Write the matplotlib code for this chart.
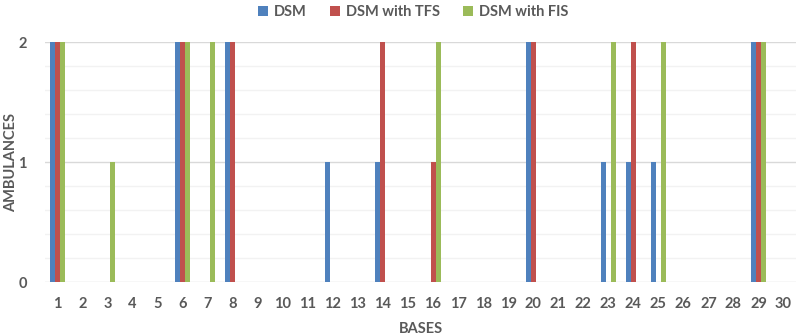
import numpy as np
import matplotlib
matplotlib.use('Agg')
import matplotlib.pyplot as plt
from matplotlib.ticker import MultipleLocator

bases = list(range(1, 31))
dsm = [2, 0, 0, 0, 0, 2, 0, 2, 0, 0, 0, 1, 0, 1, 0, 0, 0, 0, 0, 2,
       0, 0, 1, 1, 1, 0, 0, 0, 2, 0]
dsm_tfs = [2, 0, 0, 0, 0, 2, 0, 2, 0, 0, 0, 0, 0, 2, 0, 1, 0, 0, 0, 2,
           0, 0, 0, 2, 0, 0, 0, 0, 2, 0]
dsm_fis = [2, 0, 1, 0, 0, 2, 2, 0, 0, 0, 0, 0, 0, 0, 0, 2, 0, 0, 0, 0,
           0, 0, 2, 0, 2, 0, 0, 0, 2, 0]
series_names = ['DSM', 'DSM with TFS', 'DSM with FIS']
colors = ['#4F81BD', '#C0504D', '#9BBB59']

plt.rcParams['font.family'] = ['Lato', 'DejaVu Sans']
plt.rcParams['font.weight'] = 'bold'
txt = '#595959'
fs = 10.5

fig = plt.figure(figsize=(7.96, 3.35), dpi=100)
ax = fig.add_axes([0.0565, 0.158, 0.9435, 0.716])

x = np.arange(len(bases))
w = 0.2
for i, (vals, name, c) in enumerate(zip([dsm, dsm_tfs, dsm_fis], series_names, colors)):
    ax.bar(x + (i - 1) * w, vals, width=w, color=c, label=name, zorder=3)

ax.set_xlim(-0.5, len(bases) - 0.5)
ax.set_ylim(0, 2)
ax.set_xticks(x)
ax.set_xticklabels([str(b) for b in bases], fontweight='bold')
ax.set_yticks([0, 1, 2])
ax.set_yticklabels(['0', '1', '2'], fontweight='bold')
ax.yaxis.set_minor_locator(MultipleLocator(0.2))
ax.grid(axis='y', which='major', color='#d9d9d9', linewidth=1, zorder=0)
ax.grid(axis='y', which='minor', color='#f2f2f2', linewidth=1, zorder=0)
for s in ax.spines.values():
    s.set_visible(False)
ax.tick_params(axis='both', which='both', length=0, colors=txt, labelsize=fs)
ax.tick_params(axis='x', pad=11)
ax.tick_params(axis='y', pad=13)

ax.set_xlabel('BASES', color=txt, fontsize=fs, fontweight='bold')
ax.xaxis.set_label_coords(0.5, -0.165)
ax.set_ylabel('AMBULANCES', color=txt, fontsize=fs, fontweight='bold')
ax.yaxis.set_label_coords(-0.036, 0.5)

leg = ax.legend(loc='center', bbox_to_anchor=(0.49, 1.125), ncol=3, frameon=False,
                prop={'size': fs, 'weight': 'bold'}, handlelength=0.7, handleheight=0.7,
                handletextpad=0.4, columnspacing=1.6)
for t in leg.get_texts():
    t.set_color(txt)

fig.savefig('out.png', dpi=100)
